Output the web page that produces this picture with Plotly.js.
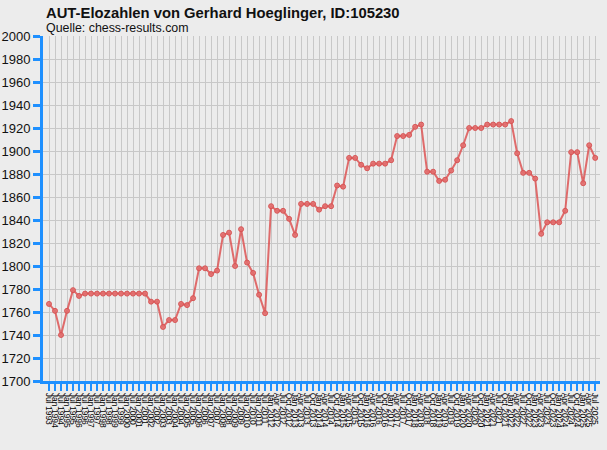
<!DOCTYPE html>
<html>
<head>
<meta charset="utf-8">
<script src="https://cdn.plot.ly/plotly-3.0.1.min.js"></script>
<style>
  html, body { margin: 0; padding: 0; background: #ececec; }
  #chart { width: 607px; height: 450px; }
</style>
</head>
<body>
<div id="chart"></div>
<script>
// Ratingperioden (halbjährlich bis Jan 2012, danach quartalsweise)
const periods = [
    'Jul 1993', 'Jan 1994', 'Jul 1994', 'Jan 1995', 'Jul 1995', 'Jan 1996', 'Jul 1996', 'Jan 1997',
    'Jul 1997', 'Jan 1998', 'Jul 1998', 'Jan 1999', 'Jul 1999', 'Jan 2000', 'Jul 2000', 'Jan 2001',
    'Jul 2001', 'Jan 2002', 'Jul 2002', 'Jan 2003', 'Jul 2003', 'Jan 2004', 'Jul 2004', 'Jan 2005',
    'Jul 2005', 'Jan 2006', 'Jul 2006', 'Jan 2007', 'Jul 2007', 'Jan 2008', 'Jul 2008', 'Jan 2009',
    'Jul 2009', 'Jan 2010', 'Jul 2010', 'Jan 2011', 'Jul 2011', 'Jan 2012',
    'Apr 2012', 'Jul 2012', 'Oct 2012', 'Jan 2013', 'Apr 2013', 'Jul 2013', 'Oct 2013',
    'Jan 2014', 'Apr 2014', 'Jul 2014', 'Oct 2014', 'Jan 2015', 'Apr 2015', 'Jul 2015', 'Oct 2015',
    'Jan 2016', 'Apr 2016', 'Jul 2016', 'Oct 2016', 'Jan 2017', 'Apr 2017', 'Jul 2017', 'Oct 2017',
    'Jan 2018', 'Apr 2018', 'Jul 2018', 'Oct 2018', 'Jan 2019', 'Apr 2019', 'Jul 2019', 'Oct 2019',
    'Jan 2020', 'Apr 2020', 'Jul 2020', 'Oct 2020', 'Jan 2021', 'Apr 2021', 'Jul 2021', 'Oct 2021',
    'Jan 2022', 'Apr 2022', 'Jul 2022', 'Oct 2022', 'Jan 2023', 'Apr 2023', 'Jul 2023', 'Oct 2023',
    'Jan 2024', 'Apr 2024', 'Jul 2024', 'Oct 2024', 'Jan 2025', 'Apr 2025', 'Jul 2025'
];

// Elozahlen je Periode
const ratings = [
    1767, 1761, 1740, 1761, 1779, 1774, 1776, 1776,
    1776, 1776, 1776, 1776, 1776, 1776, 1776, 1776,
    1776, 1769, 1769, 1747, 1753, 1753, 1767, 1766,
    1772, 1798, 1798, 1793, 1796, 1827, 1829, 1800,
    1832, 1803, 1794, 1775, 1759, 1852,
    1848, 1848, 1841, 1827, 1854, 1854, 1854,
    1849, 1852, 1852, 1870, 1869, 1894, 1894, 1888,
    1885, 1889, 1889, 1889, 1892, 1913, 1913, 1914,
    1921, 1923, 1882, 1882, 1874, 1875, 1883, 1892,
    1905, 1920, 1920, 1920, 1923, 1923, 1923, 1923,
    1926, 1898, 1881, 1881, 1876, 1828, 1838, 1838,
    1838, 1848, 1899, 1899, 1872, 1905, 1894
];

const yTicks = [1700, 1720, 1740, 1760, 1780, 1800, 1820, 1840, 1860, 1880, 1900, 1920, 1940, 1960, 1980, 2000];

const AXIS_BLUE = '#1e90ff';
const BG = '#ececec';

const trace = {
    x: periods,
    y: ratings,
    type: 'scatter',
    mode: 'lines+markers',
    line: { color: 'rgba(221,85,85,0.85)', width: 2 },
    marker: {
        color: 'rgba(226,110,110,0.9)',
        size: 5,
        line: { color: 'rgba(214,80,80,0.9)', width: 1 },
    },
    hoverinfo: 'x+y',
};

const layout = {
    width: 607,
    height: 450,
    paper_bgcolor: BG,
    plot_bgcolor: BG,
    font: { family: '"Liberation Sans", Arial, sans-serif', color: '#111' },
    margin: { l: 43, r: 7, t: 36, b: 69 },
    showlegend: false,
    xaxis: {
        type: 'category',
        range: [-1.0, 91.8],
        tickmode: 'array',
        tickvals: periods,
        ticktext: periods,
        tickangle: 90,
        tickfont: { size: 8.5, color: '#000' },
        ticks: 'outside',
        ticklen: 7,
        tickwidth: 2,
        tickcolor: AXIS_BLUE,
        showline: true,
        linecolor: AXIS_BLUE,
        linewidth: 3,
        showgrid: true,
        gridcolor: '#c8c8c8',
        gridwidth: 1,
        zeroline: false,
        fixedrange: true,
    },
    yaxis: {
        range: [1700, 2000],
        tickmode: 'array',
        tickvals: yTicks,
        tickfont: { size: 13, color: '#111' },
        ticks: 'outside',
        ticklen: 7,
        tickwidth: 3,
        tickcolor: AXIS_BLUE,
        showline: true,
        linecolor: AXIS_BLUE,
        linewidth: 3,
        showgrid: true,
        gridcolor: '#c8c8c8',
        gridwidth: 1,
        zeroline: false,
        fixedrange: true,
    },
    annotations: [
        {
            text: '<b>AUT-Elozahlen von Gerhard Hoeglinger, ID:105230</b>',
            xref: 'paper', yref: 'paper',
            x: 0, y: 1, xanchor: 'left', yanchor: 'bottom',
            xshift: 1, yshift: 13,
            showarrow: false,
            font: { size: 14.8, color: '#111' },
        },
        {
            text: 'Quelle: chess-results.com',
            xref: 'paper', yref: 'paper',
            x: 0, y: 1, xanchor: 'left', yanchor: 'bottom',
            xshift: 1, yshift: -1,
            showarrow: false,
            font: { size: 12.4, color: '#111' },
        },
    ],
};

Plotly.newPlot('chart', [trace], layout, { displayModeBar: false, staticPlot: true });
</script>
</body>
</html>
